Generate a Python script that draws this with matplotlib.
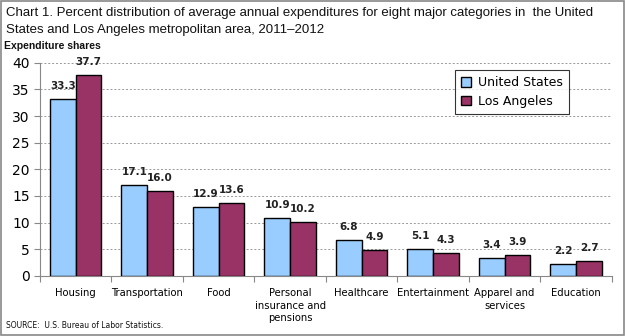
import matplotlib
matplotlib.use("Agg")
import matplotlib.pyplot as plt
from matplotlib.patches import Rectangle
import numpy as np

categories = ["Housing", "Transportation", "Food", "Personal\ninsurance and\npensions",
              "Healthcare", "Entertainment", "Apparel and\nservices", "Education"]
us = [33.3, 17.1, 12.9, 10.9, 6.8, 5.1, 3.4, 2.2]
la = [37.7, 16.0, 13.6, 10.2, 4.9, 4.3, 3.9, 2.7]
yticks = [0, 5, 10, 15, 20, 25, 30, 35, 40]

plt.rcParams["font.family"] = ["DejaVu Sans"]
title_font = ["Liberation Sans", "DejaVu Sans"]

fig = plt.figure(figsize=(6.25, 3.36), dpi=100)
ax = fig.add_axes([0.064, 0.179, 0.915, 0.634])

x = np.arange(len(categories))
w = 0.36
ax.bar(x - w / 2, us, w, color="#99CCFF", edgecolor="black", linewidth=1, label="United States", zorder=3)
ax.bar(x + w / 2, la, w, color="#993366", edgecolor="black", linewidth=1, label="Los Angeles", zorder=3)

for i in range(len(categories)):
    ax.text(x[i] - w / 2, us[i] + 1.5, f"{us[i]:.1f}", ha="center", va="bottom",
            fontsize=7.5, fontweight="bold", color="#222222")
    ax.text(x[i] + w / 2, la[i] + 1.5, f"{la[i]:.1f}", ha="center", va="bottom",
            fontsize=7.5, fontweight="bold", color="#222222")

ax.set_xlim(-0.5, len(categories) - 0.5)
ax.set_ylim(0, 40)
ax.set_yticks(yticks)
ax.tick_params(axis="y", labelsize=10, length=4, width=0.8, color="#888888")
ax.set_xticks(np.arange(len(categories) + 1) - 0.5, minor=False)
ax.set_xticklabels([])
ax.set_xticks(x, minor=True)
ax.set_xticklabels(categories, minor=True, fontsize=7.2, va="top", linespacing=1.3)
ax.tick_params(axis="x", which="major", length=4, width=0.8, color="#888888")
ax.tick_params(axis="x", which="minor", length=0, pad=9)

ax.grid(axis="y", ls=(0, (2, 2)), color="#999999", lw=0.7, zorder=0)
for s in ["top", "right"]:
    ax.spines[s].set_visible(False)
ax.spines["left"].set_color("#888888")
ax.spines["bottom"].set_color("#888888")

leg = ax.legend(loc="upper left", bbox_to_anchor=(455 / 625, 1 - 70 / 336),
                bbox_transform=fig.transFigure, fontsize=9, frameon=True,
                fancybox=False, edgecolor="black", handlelength=0.8, handleheight=0.8,
                handletextpad=0.5, borderpad=0.5, labelspacing=0.45, borderaxespad=0)
leg.get_frame().set_linewidth(0.8)

fig.text(6 / 625, 1 - 7 / 336,
         "Chart 1. Percent distribution of average annual expenditures for eight major categories in  the United\n"
         "States and Los Angeles metropolitan area, 2011\u20132012",
         ha="left", va="top", fontsize=9.5, linespacing=1.5, color="#111111",
         family=title_font)
fig.text(4 / 625, 1 - 46 / 336, "Expenditure shares", ha="left", va="center",
         fontsize=7.5, fontweight="bold", color="#111111", family=title_font)
fig.text(6 / 625, 1 - 326 / 336, "SOURCE:  U.S. Bureau of Labor Statistics.", ha="left", va="center",
         fontsize=5.5, color="#111111")

fig.add_artist(Rectangle((0.001, 0.002), 0.997, 0.995, transform=fig.transFigure,
                         fill=False, edgecolor="#888888", lw=1.2))

fig.savefig("out.png", dpi=100)
